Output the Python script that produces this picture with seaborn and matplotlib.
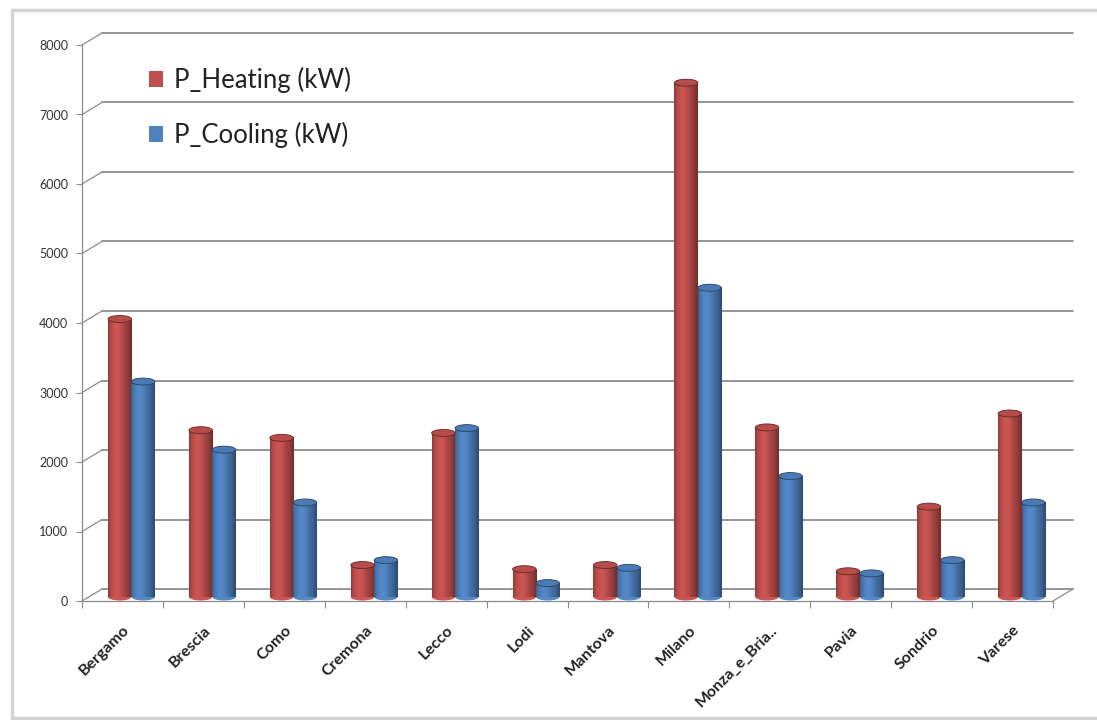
import numpy as np
import pandas as pd
import seaborn as sns
import matplotlib.pyplot as plt
from matplotlib.colors import to_rgb
from matplotlib.patches import Ellipse, Patch
from matplotlib.lines import Line2D
from matplotlib.transforms import ScaledTranslation

# Installed peak power per province (kW)
provinces = ["Bergamo", "Brescia", "Como", "Cremona", "Lecco", "Lodi",
             "Mantova", "Milano", "Monza_e_Bria..", "Pavia", "Sondrio", "Varese"]
heating_kw = [4000, 2400, 2290, 460, 2360, 400, 460, 7400, 2440, 370, 1300, 2640]
cooling_kw = [3100, 2120, 1360, 530, 2430, 200, 420, 4450, 1740, 340, 530, 1360]
series_names = ["P_Heating (kW)", "P_Cooling (kW)"]
y_ticks = [0, 1000, 2000, 3000, 4000, 5000, 6000, 7000, 8000]

RED = "#C0504D"
BLUE = "#4F81BD"
GRID = "#8c8c8c"
W, H, DPI = 1097, 720, 100

df = pd.DataFrame({
    "Provincia": provinces * 2,
    "Potenza": heating_kw + cooling_kw,
    "Serie": [series_names[0]] * len(provinces) + [series_names[1]] * len(provinces),
})

sns.set_theme(style="white")
plt.rcParams["font.family"] = ["Lato", "DejaVu Sans"]

fig = plt.figure(figsize=(W / DPI, H / DPI), dpi=DPI)
ax = fig.add_axes([82 / W, (H - 601) / H, (1053 - 82) / W, (601 - 45) / H])

sns.barplot(data=df, x="Provincia", y="Potenza", hue="Serie",
            palette=[RED, BLUE], width=0.58, saturation=1,
            legend=False, ax=ax, edgecolor="none", zorder=3)
ax.set_xlim(-0.5, len(provinces) - 0.5)
ax.set_ylim(0, 8000)


def px_shift(dx, dy):
    return ScaledTranslation(dx / DPI, dy / DPI, fig.dpi_scale_trans)


# Back wall: shifted gridlines
back = px_shift(20, 12)
ytrans = ax.get_yaxis_transform()
for v in y_ticks:
    ax.add_line(Line2D([0, 1], [v, v], transform=ytrans + back,
                       color=GRID, lw=1.3, zorder=1, clip_on=False))
# side-wall diagonals (left) and floor edge (right)
for v in y_ticks:
    x0, y0 = ax.transData.transform((-0.5, v))
    ax.add_line(Line2D([x0, x0 + 20], [y0, y0 + 12], transform=None,
                       color=GRID, lw=0.9, zorder=1, clip_on=False))
xr, yr = ax.transData.transform((len(provinces) - 0.5, 0))
ax.add_line(Line2D([xr, xr + 20], [yr, yr + 12], transform=None,
                   color=GRID, lw=0.9, zorder=1, clip_on=False))


def shade(color, n=64):
    base = np.array(to_rgb(color))
    t = np.linspace(0, 1, n)
    # cylinder lighting: darker rims, soft highlight left of centre
    f = 0.72 + 0.34 * np.exp(-((t - 0.36) / 0.34) ** 2)
    f = f - 0.15 * np.clip((t - 0.82) / 0.18, 0, 1)
    f = f - 0.10 * np.clip((0.08 - t) / 0.08, 0, 1)
    rgb = np.clip(base[None, :] * f[:, None], 0, 1)
    return rgb[None, :, :]


# Cylinders: gradient body, bottom and top ellipses, nudged into depth
depth = px_shift(9, 4)
units_per_px = 8000 / (601 - 45)
cap_h = 7 * units_per_px
for patch in list(ax.patches):
    x, w, h = patch.get_x(), patch.get_width(), patch.get_height()
    col = patch.get_facecolor()
    tr = ax.transData + depth
    patch.set_transform(tr)
    patch.set_clip_on(False)
    grad = shade(col[:3])
    body = ax.imshow(grad, extent=[x, x + w, 0, h], aspect="auto",
                     transform=tr, zorder=3.2, interpolation="bilinear")
    body.set_clip_on(False)
    bottom = Ellipse((x + w / 2, 0), w, cap_h, transform=tr,
                     facecolor=grad[0, 24], edgecolor="none", zorder=3.1,
                     clip_on=False)
    ax.add_patch(bottom)
    top = Ellipse((x + w / 2, h), w, cap_h, transform=tr,
                  facecolor=grad[0, 22] * 0.9, edgecolor=grad[0, 60] * 0.8,
                  lw=0.6, zorder=3.4, clip_on=False)
    ax.add_patch(top)
ax.set_xlim(-0.5, len(provinces) - 0.5)
ax.set_ylim(0, 8000)

# Axes styling
for side in ["top", "right"]:
    ax.spines[side].set_visible(False)
for side in ["left", "bottom"]:
    ax.spines[side].set_color(GRID)
    ax.spines[side].set_linewidth(0.9)
    ax.spines[side].set_zorder(2)

ax.set_yticks(y_ticks)
ax.set_yticklabels([str(v) for v in y_ticks])
ax.tick_params(axis="y", left=True, length=4, width=0.8, color=GRID, pad=6,
               labelsize=9, labelcolor="#333333")
ax.set_xticks(range(len(provinces)))
ax.set_xticklabels(provinces, rotation=45, ha="right", rotation_mode="anchor",
                   fontsize=11.5, fontweight="bold", color="#222222")
ax.set_xticks(np.arange(-0.5, len(provinces)), minor=True)
ax.tick_params(axis="x", which="major", length=0, pad=16)
ax.tick_params(axis="x", which="minor", bottom=True, length=5, width=0.8,
               color=GRID)
ax.set_xlabel("")
ax.set_ylabel("")
ax.patch.set_alpha(0)

# Legend
handles = [Patch(facecolor=RED, edgecolor="none"),
           Patch(facecolor=BLUE, edgecolor="none")]
fig.legend(handles, series_names, loc="upper left",
           bbox_to_anchor=(126 / W, (H - 44) / H), frameon=False,
           fontsize=18.5, handlelength=0.55, handleheight=0.55,
           handletextpad=0.42, labelspacing=1.12, labelcolor="#222222")

# Chart area frame
frame_kw = dict(color="#d4d4d4", lw=2.5, transform=fig.transFigure)
fig.add_artist(Line2D([12 / W, 12 / W], [(H - 718) / H, (H - 10) / H], **frame_kw))
fig.add_artist(Line2D([12 / W, 1.0], [(H - 10) / H, (H - 10) / H], **frame_kw))
fig.add_artist(Line2D([12 / W, 1.0], [(H - 718) / H, (H - 718) / H], **frame_kw))

fig.savefig("out.png", dpi=DPI, facecolor="white")
